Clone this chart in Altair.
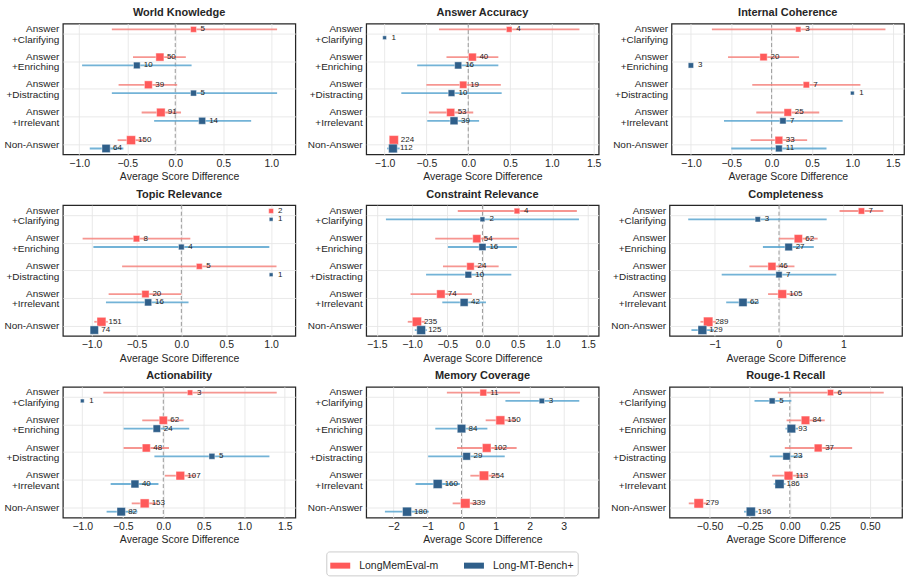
import json

import altair as alt
import pandas as pd

# Response categories (top to bottom) and the two benchmarks compared
CATEGORIES = ["Answer\n+Clarifying", "Answer\n+Enriching", "Answer\n+Distracting",
              "Answer\n+Irrelevant", "Non-Answer"]
SERIES = ["LongMemEval-m", "Long-MT-Bench+"]
POINT_COLORS = ["#FF5A5A", "#2F5F8A"]
BAR_COLORS = ["#F5847E", "#5AA6D0"]
OFFSETS = [-0.15, 0.15]

# Mean score difference, CI bounds and sample count per category (None = no samples)
WORLD_KNOWLEDGE = {
    "LongMemEval-m": dict(mean=[0.19, -0.16, -0.28, -0.15, -0.46],
                          lo=[-0.66, -0.44, -0.59, -0.35, -0.60],
                          hi=[1.06, 0.11, 0.02, 0.06, -0.32],
                          n=[5, 50, 39, 91, 150]),
    "Long-MT-Bench+": dict(mean=[None, -0.40, 0.19, 0.28, -0.72],
                           lo=[None, -0.97, -0.66, -0.22, -0.89],
                           hi=[None, 0.17, 1.06, 0.79, -0.54],
                           n=[None, 10, 5, 14, 64]),
}
ANSWER_ACCURACY = {
    "LongMemEval-m": dict(mean=[0.49, 0.05, -0.06, -0.21, -0.89],
                          lo=[-0.35, -0.26, -0.50, -0.47, -0.94],
                          hi=[1.33, 0.36, 0.39, 0.06, -0.84],
                          n=[4, 40, 19, 53, 224]),
    "Long-MT-Bench+": dict(mean=[-1.0, -0.12, -0.20, -0.17, -0.90],
                           lo=[-1.0, -0.61, -0.80, -0.49, -0.97],
                           hi=[-1.0, 0.36, 0.40, 0.13, -0.82],
                           n=[1, 16, 10, 39, 112]),
}
INTERNAL_COHERENCE = {
    "LongMemEval-m": dict(mean=[0.33, -0.10, 0.43, 0.20, 0.09],
                          lo=[-0.74, -0.54, -0.24, -0.19, -0.26],
                          hi=[1.41, 0.34, 1.10, 0.59, 0.44],
                          n=[3, 20, 7, 25, 33]),
    "Long-MT-Bench+": dict(mean=[None, -1.0, 1.0, 0.14, 0.09],
                           lo=[None, -1.0, 1.0, -0.59, -0.50],
                           hi=[None, -1.0, 1.0, 0.88, 0.68],
                           n=[None, 3, 1, 7, 11]),
}
TOPIC_RELEVANCE = {
    "LongMemEval-m": dict(mean=[1.0, -0.50, 0.20, -0.40, -0.89],
                          lo=[1.0, -1.10, -0.66, -0.81, -0.97],
                          hi=[1.0, 0.10, 1.06, 0.0, -0.82],
                          n=[2, 8, 5, 20, 151]),
    "Long-MT-Bench+": dict(mean=[1.0, 0.0, 1.0, -0.37, -0.97],
                           lo=[1.0, -0.98, 1.0, -0.84, -1.0],
                           hi=[1.0, 0.98, 1.0, 0.08, -0.93],
                           n=[1, 4, 1, 16, 74]),
}
CONSTRAINT_RELEVANCE = {
    "LongMemEval-m": dict(mean=[0.49, -0.08, -0.17, -0.59, -0.93],
                          lo=[-0.35, -0.67, -0.56, -1.02, -1.06],
                          hi=[1.34, 0.52, 0.23, -0.15, -0.81],
                          n=[4, 54, 24, 74, 235]),
    "Long-MT-Bench+": dict(mean=[0.0, 0.0, -0.20, -0.26, -0.87],
                           lo=[-1.37, -0.49, -0.80, -0.57, -0.96],
                           hi=[1.37, 0.49, 0.41, 0.05, -0.79],
                           n=[2, 16, 10, 42, 125]),
}
COMPLETENESS = {
    "LongMemEval-m": dict(mean=[1.28, 0.30, -0.11, 0.05, -1.10],
                          lo=[0.94, 0.0, -0.46, -0.17, -1.22],
                          hi=[1.62, 0.60, 0.24, 0.26, -0.98],
                          n=[7, 62, 46, 105, 289]),
    "Long-MT-Bench+": dict(mean=[-0.33, 0.15, 0.0, -0.56, -1.19],
                           lo=[-1.41, -0.25, -0.89, -0.82, -1.36],
                           hi=[0.74, 0.54, 0.89, -0.31, -1.01],
                           n=[3, 27, 7, 62, 129]),
}
ACTIONABILITY = {
    "LongMemEval-m": dict(mean=[0.33, 0.0, -0.21, 0.21, -0.23],
                          lo=[-0.74, -0.26, -0.49, 0.02, -0.39],
                          hi=[1.40, 0.25, 0.07, 0.40, -0.07],
                          n=[3, 62, 48, 107, 153]),
    "Long-MT-Bench+": dict(mean=[-1.0, -0.08, 0.60, -0.35, -0.52],
                           lo=[-1.0, -0.49, -0.11, -0.65, -0.70],
                           hi=[-1.0, 0.32, 1.31, -0.06, -0.32],
                           n=[1, 24, 5, 40, 82]),
}
MEMORY_COVERAGE = {
    "LongMemEval-m": dict(mean=[0.64, 1.14, 0.74, 0.66, 0.11],
                          lo=[-0.43, 0.71, -0.13, 0.26, -0.26],
                          hi=[1.72, 1.60, 1.62, 1.07, 0.49],
                          n=[11, 150, 102, 254, 339]),
    "Long-MT-Bench+": dict(mean=[2.36, 0.0, 0.15, -0.70, -1.60],
                           lo=[1.29, -0.77, -0.98, -1.35, -2.25],
                           hi=[3.46, 0.76, 1.27, -0.05, -0.96],
                           n=[3, 84, 29, 160, 180]),
}
ROUGE1_RECALL = {
    "LongMemEval-m": dict(mean=[0.254, 0.098, 0.177, -0.008, -0.568],
                          lo=[-0.075, -0.02, -0.031, -0.11, -0.63],
                          hi=[0.586, 0.218, 0.389, 0.096, -0.51],
                          n=[6, 84, 37, 113, 279]),
    "Long-MT-Bench+": dict(mean=[-0.11, 0.01, -0.02, -0.064, -0.243],
                           lo=[-0.22, -0.027, -0.125, -0.10, -0.285],
                           hi=[0.01, 0.052, 0.08, -0.027, -0.20],
                           n=[5, 93, 23, 186, 196]),
}

# (title, stats, x domain, tick values, tick format)
PANELS = [
    ("World Knowledge", WORLD_KNOWLEDGE, [-1.17, 1.25], [-1, -0.5, 0, 0.5, 1], ".1f"),
    ("Answer Accuracy", ANSWER_ACCURACY, [-1.22, 1.56], [-1, -0.5, 0, 0.5, 1, 1.5], ".1f"),
    ("Internal Coherence", INTERNAL_COHERENCE, [-1.24, 1.64], [-1, -0.5, 0, 0.5, 1, 1.5], ".1f"),
    ("Topic Relevance", TOPIC_RELEVANCE, [-1.32, 1.27], [-1, -0.5, 0, 0.5, 1], ".1f"),
    ("Constraint Relevance", CONSTRAINT_RELEVANCE, [-1.65, 1.65], [-1.5, -1, -0.5, 0, 0.5, 1, 1.5], ".1f"),
    ("Completeness", COMPLETENESS, [-1.70, 1.91], [-1, 0, 1], "d"),
    ("Actionability", ACTIONABILITY, [-1.24, 1.63], [-1, -0.5, 0, 0.5, 1, 1.5], ".1f"),
    ("Memory Coverage", MEMORY_COVERAGE, [-2.80, 4.03], [-2, -1, 0, 1, 2, 3], "d"),
    ("Rouge-1 Recall", ROUGE1_RECALL, [-0.75, 0.70], [-0.5, -0.25, 0, 0.25, 0.5], ".2f"),
]

FONT = "Liberation Sans"
LABEL_EXPR = "[" + ",".join(json.dumps(c.split("\n")) for c in CATEGORIES) + "][datum.value]"
# two-line category labels are lifted by half a line so the block centres on its gridline
TWO_LINE = [i for i, c in enumerate(CATEGORIES) if "\n" in c]
LABEL_SHIFT = {"condition": {"test": f"indexof({json.dumps(TWO_LINE)}, datum.value) >= 0",
                             "value": -5}, "value": 0}


def panel(title, stats, domain, ticks, fmt):
    rows = []
    for s_i, s in enumerate(SERIES):
        st = stats[s]
        for c_i in range(len(CATEGORIES)):
            if st["mean"][c_i] is None:
                continue
            rows.append(dict(series=s, pos=c_i + OFFSETS[s_i],
                             mean=st["mean"][c_i], lo=st["lo"][c_i], hi=st["hi"][c_i],
                             n=st["n"][c_i]))
    df = pd.DataFrame(rows)

    xscale = alt.Scale(domain=domain, nice=False, zero=False)
    xaxis = alt.Axis(values=ticks, format=fmt, title="Average Score Difference")
    y = alt.Y("pos:Q",
              scale=alt.Scale(domain=[-0.36, 4.36], reverse=True, nice=False, zero=False),
              axis=alt.Axis(values=[0, 1, 2, 3, 4], labelExpr=LABEL_EXPR, title=None,
                            labelOffset=LABEL_SHIFT))

    zero = alt.Chart(pd.DataFrame({"zero": [0.0]})).mark_rule(
        color="#999999", strokeDash=[4, 2.5], strokeWidth=1
    ).encode(x=alt.X("zero:Q", scale=xscale, axis=xaxis))

    # confidence intervals, one layer per benchmark in its lighter tint
    bars = [
        alt.Chart(df).transform_filter(alt.datum.series == s).mark_rule(
            strokeWidth=1.8, opacity=0.85, color=BAR_COLORS[i]
        ).encode(x=alt.X("lo:Q", scale=xscale, axis=xaxis), x2="hi:Q", y=y)
        for i, s in enumerate(SERIES)
    ]

    points = alt.Chart(df).mark_point(
        shape="square", filled=True, opacity=1, stroke="white", strokeWidth=0.6, strokeOpacity=0.7
    ).encode(
        x=alt.X("mean:Q", scale=xscale, axis=xaxis),
        y=y,
        color=alt.Color(
            "series:N",
            scale=alt.Scale(domain=SERIES, range=POINT_COLORS),
            legend=alt.Legend(
                title=None, orient="none", legendX=264, legendY=529, direction="horizontal",
                symbolType="M-1,-0.3H1V0.3H-1Z", symbolSize=400, symbolStrokeWidth=0,
                symbolOpacity=1,
                labelFontSize=10.5, labelFont=FONT, labelColor="#262626", labelOffset=9,
                columnPadding=25, padding=4, strokeColor="#cccccc", cornerRadius=3,
                fillColor="white",
            ),
        ),
        size=alt.Size("n:Q", scale=alt.Scale(type="log", domain=[1, 339], range=[14, 90]), legend=None),
    )

    labels = alt.Chart(df).mark_text(
        align="left", baseline="middle", dx=7, fontSize=8, font=FONT, color="#222222"
    ).encode(x=alt.X("mean:Q", scale=xscale, axis=xaxis), y=y, text="n:Q")

    return alt.layer(zero, *bars, points, labels).properties(
        title=title, width=233, height=131
    )


charts = [panel(*p) for p in PANELS]
rows = [alt.hconcat(*charts[i:i + 3], spacing=10) for i in range(0, 9, 3)]

chart = alt.vconcat(*rows, spacing=4).configure(
    background="white", padding={"left": 3, "top": 5, "right": 5, "bottom": 5}
).configure_view(
    stroke="#262626", strokeWidth=1.25
).configure_axis(
    domain=False, ticks=False, grid=True, gridColor="#e6e6e6", gridWidth=0.9,
    labelFont=FONT, labelFontSize=10.5, labelColor="#262626", labelPadding=4,
    titleFont=FONT, titleFontSize=10.5, titleFontWeight="normal", titleColor="#262626",
    titlePadding=3,
).configure_axisY(
    labelLineHeight=10.5, labelAlign="right", labelBaseline="middle", labelFontSize=10,
).configure_title(
    font=FONT, fontSize=11, fontWeight="bold", color="#262626", offset=5
)

chart.save("out.html", embed_options={"renderer": "svg", "actions": False})
